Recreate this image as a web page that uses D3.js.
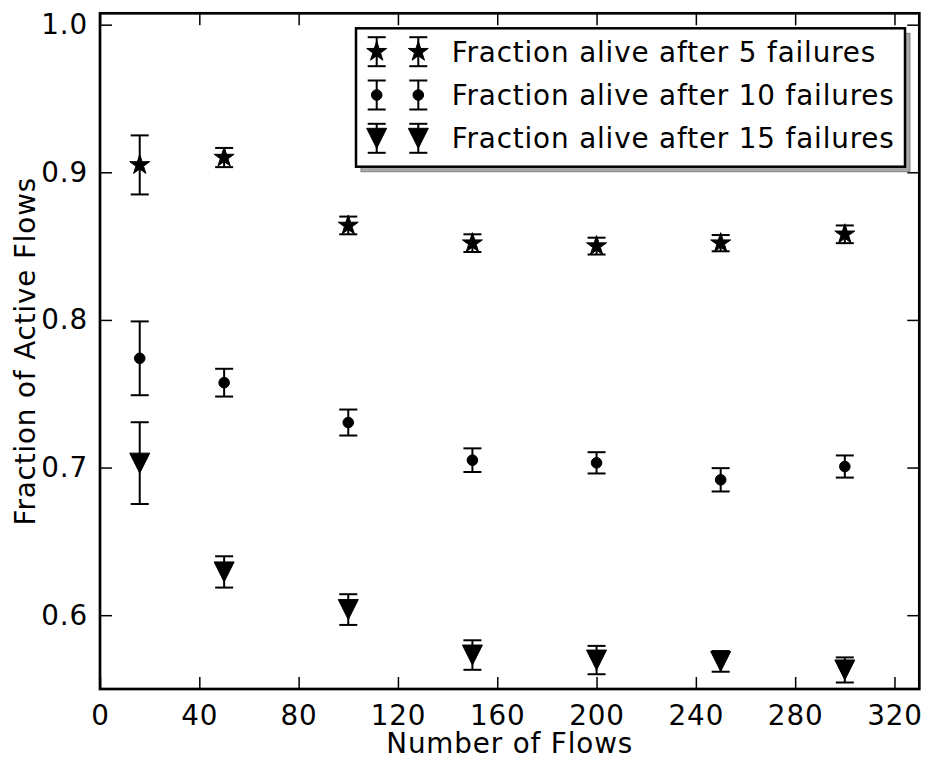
<!DOCTYPE html>
<html>
<head>
<meta charset="utf-8">
<script src="https://cdn.jsdelivr.net/npm/d3@7"></script>
<style>
  html, body { margin: 0; padding: 0; background: #fff; }
  svg { display: block; }
  text { font-family: "DejaVu Sans", sans-serif; fill: #000; letter-spacing: 0.85px; }
</style>
</head>
<body>
<svg id="chart" width="927" height="759"></svg>
<script>
// Number of flows at which each survival fraction was measured
const flows = [16, 50, 100, 150, 200, 250, 300];

// Mean fraction of flows still alive, with error bar half-widths
const alive5  = [0.905, 0.910, 0.864, 0.852, 0.850, 0.852, 0.858];
const err5    = [0.020, 0.0065, 0.006, 0.006, 0.0057, 0.0055, 0.006];
const alive10 = [0.774, 0.7575, 0.7305, 0.705, 0.7032, 0.6917, 0.7007];
const err10   = [0.025, 0.0094, 0.0088, 0.008, 0.0072, 0.0079, 0.0075];
const alive15 = [0.703, 0.6293, 0.6038, 0.573, 0.5696, 0.5687, 0.5629];
const err15   = [0.0277, 0.0106, 0.0104, 0.010, 0.0096, 0.007, 0.0085];

const xTicks = [0, 40, 80, 120, 160, 200, 240, 280, 320];
const yTicks = [0.6, 0.7, 0.8, 0.9, 1.0];
const seriesNames = [
  "Fraction alive after 5 failures",
  "Fraction alive after 10 failures",
  "Fraction alive after 15 failures"
];
const markerKinds = ["star", "circle", "triangleDown"];

const series = [
  { name: seriesNames[0], marker: markerKinds[0], values: alive5, errors: err5 },
  { name: seriesNames[1], marker: markerKinds[1], values: alive10, errors: err10 },
  { name: seriesNames[2], marker: markerKinds[2], values: alive15, errors: err15 }
];

const svg = d3.select("#chart");
const plot = { left: 100, right: 919.3, top: 13.3, bottom: 689 };
const fontSize = 27.8;

const x = d3.scaleLinear().domain([0, 330]).range([plot.left, plot.right]);
const y = d3.scaleLinear().domain([0.55, 1.0077]).range([plot.bottom, plot.top]);

// Marker shapes
function starPath(R) {
  const r = R * 0.381966;
  const pts = [];
  for (let i = 0; i < 10; i++) {
    const rad = i % 2 === 0 ? R : r;
    const a = -Math.PI / 2 + i * Math.PI / 5;
    pts.push([rad * Math.cos(a), rad * Math.sin(a)]);
  }
  return "M" + pts.map(p => p[0].toFixed(2) + "," + p[1].toFixed(2)).join("L") + "Z";
}
function markerPath(kind) {
  if (kind === "star") return starPath(10.5);
  if (kind === "circle") return d3.arc()({ innerRadius: 0, outerRadius: 5.3, startAngle: 0, endAngle: 2 * Math.PI });
  // downward-pointing triangle
  const s = 10;
  return `M${-s},${-s}L${s},${-s}L0,${s}Z`;
}

// One error bar with caps and marker
function drawErrorPoint(g, cx, cyTop, cyBot, cy, kind) {
  const cap = 9;
  g.append("line").attr("x1", cx).attr("x2", cx).attr("y1", cyTop).attr("y2", cyBot)
    .attr("stroke", "#000").attr("stroke-width", 2);
  g.append("line").attr("x1", cx - cap).attr("x2", cx + cap).attr("y1", cyTop).attr("y2", cyTop)
    .attr("stroke", "#000").attr("stroke-width", 2);
  g.append("line").attr("x1", cx - cap).attr("x2", cx + cap).attr("y1", cyBot).attr("y2", cyBot)
    .attr("stroke", "#000").attr("stroke-width", 2);
  g.append("path").attr("d", markerPath(kind))
    .attr("transform", `translate(${cx},${cy})`)
    .attr("fill", "#000").attr("stroke", "#000").attr("stroke-width", 1);
}

// Data points
const dataG = svg.append("g");
series.forEach(s => {
  const g = dataG.append("g");
  s.values.forEach((v, i) => {
    drawErrorPoint(g, x(flows[i]), y(v + s.errors[i]), y(v - s.errors[i]), y(v), s.marker);
  });
});

// Axes: ticks pointing inward on all four sides
const tickLen = 12;
const axes = svg.append("g");
const bottomAxis = d3.axisBottom(x).tickValues(xTicks).tickSize(-tickLen).tickPadding(16).tickFormat(d3.format("d"));
const topAxis = d3.axisTop(x).tickValues(xTicks).tickSize(-tickLen).tickFormat("");
const leftAxis = d3.axisLeft(y).tickValues(yTicks).tickSize(-tickLen).tickPadding(12).tickFormat(d3.format(".1f"));
const rightAxis = d3.axisRight(y).tickValues(yTicks).tickSize(-tickLen).tickFormat("");

function styleAxis(sel) {
  sel.select(".domain").remove();
  sel.selectAll(".tick line").attr("stroke", "#000").attr("stroke-width", 1.5);
  sel.selectAll(".tick text").style("font-size", fontSize + "px").style("font-family", "DejaVu Sans");
}
axes.append("g").attr("transform", `translate(0,${plot.bottom})`).call(bottomAxis).call(styleAxis);
axes.append("g").attr("transform", `translate(0,${plot.top})`).call(topAxis).call(styleAxis);
axes.append("g").attr("transform", `translate(${plot.left},0)`).call(leftAxis).call(styleAxis);
axes.append("g").attr("transform", `translate(${plot.right},0)`).call(rightAxis).call(styleAxis);

// Plot frame
axes.append("rect")
  .attr("x", plot.left).attr("y", plot.top)
  .attr("width", plot.right - plot.left).attr("height", plot.bottom - plot.top)
  .attr("fill", "none").attr("stroke", "#000").attr("stroke-width", 2.7);

// Axis titles
svg.append("text")
  .attr("x", (plot.left + plot.right) / 2).attr("y", 753)
  .attr("text-anchor", "middle").style("font-size", fontSize + "px")
  .text("Number of Flows");
svg.append("text")
  .attr("transform", `translate(35,${(plot.top + plot.bottom) / 2}) rotate(-90)`)
  .attr("text-anchor", "middle").style("font-size", fontSize + "px")
  .text("Fraction of Active Flows");

// Legend with drop shadow
const legend = { x: 356, y: 28.3, w: 549, h: 138.4 };
const lg = svg.append("g");
lg.append("rect")
  .attr("x", legend.x + 5).attr("y", legend.y + 5)
  .attr("width", legend.w).attr("height", legend.h)
  .attr("fill", "#a8a8a8").attr("stroke", "#808080").attr("stroke-width", 1);
lg.append("rect")
  .attr("x", legend.x).attr("y", legend.y)
  .attr("width", legend.w).attr("height", legend.h)
  .attr("fill", "#fff").attr("stroke", "#000").attr("stroke-width", 2.5);

const rowY = [51.7, 95, 138.3];
const handleX = [376.7, 418.3];
series.forEach((s, i) => {
  const g = lg.append("g");
  handleX.forEach(hx => drawErrorPoint(g, hx, rowY[i] - 14.5, rowY[i] + 14.5, rowY[i], s.marker));
  g.append("text")
    .attr("x", 451.7).attr("y", rowY[i]).attr("dy", "0.36em")
    .style("font-size", fontSize + "px")
    .text(s.name);
});
</script>
</body>
</html>
